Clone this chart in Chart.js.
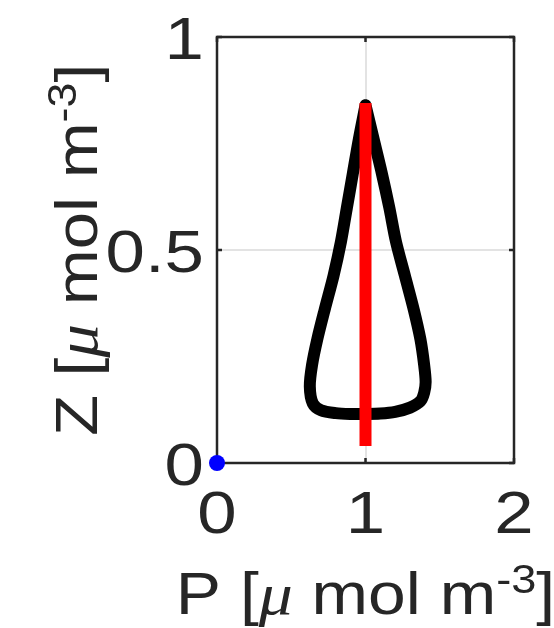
<!DOCTYPE html>
<html>
<head>
<meta charset="utf-8">
<script src="https://cdn.jsdelivr.net/npm/chart.js@4"></script>
<style>
 body{margin:0;background:#fff;}
 canvas{display:block;}
</style>
</head>
<body>
<canvas id="pz" width="554" height="628"></canvas>
<script>
/* DATA */
// black limit cycle: tip, down the left side, along the bottom, up the right side
const loopP=[1.00,0.955,0.915,0.875,0.835,0.785,0.725,0.675,0.64,0.625,0.645,0.70,0.80,0.90,1.00,1.10,1.20,1.30,1.37,1.395,1.405,1.395,1.37,1.325,1.265,1.205,1.16,1.11,1.055,1.00];
const loopZ=[0.84,0.76,0.68,0.60,0.52,0.44,0.36,0.29,0.23,0.18,0.14,0.124,0.117,0.115,0.115,0.116,0.12,0.13,0.145,0.165,0.19,0.23,0.29,0.36,0.44,0.52,0.60,0.68,0.76,0.84];
// red line at P=1
const redP=[1,1];
const redZ=[0.04,0.845];
// blue start point
const dotP=[0];
const dotZ=[0];
const xTicks=[0,1,2];
const yTicks=[0,0.5,1];
const xLabel="P";
const yLabel="Z";

const ink="#262626";
const sans='"Liberation Sans", Arial, sans-serif';
const pts=(xs,ys)=>xs.map((x,i)=>({x:x,y:ys[i]}));

/* TEXT HELPERS (glyphs in the reference are a little wider than Arial) */
function stretchText(ctx,txt,x,y,sx,align){
 ctx.save();
 ctx.translate(x,y);
 ctx.scale(sx,1);
 ctx.textAlign=align;
 ctx.fillText(txt,0,0);
 ctx.restore();
}
function drawTitle(ctx,v,x,y,rot,sx){
 const big='60px '+sans;
 const it='italic 60px "Liberation Serif", serif';
 const sm='40px '+sans;
 const parts=[[v+' [',big,0],['\u03bc',it,0],[' mol m',big,0],['-3',sm,-21],[']',big,0]];
 let w=0;
 parts.forEach(p=>{ctx.font=p[1];w+=ctx.measureText(p[0]).width;});
 ctx.save();
 ctx.translate(x,y);
 ctx.rotate(rot);
 ctx.scale(sx,1);
 ctx.fillStyle=ink;
 ctx.textBaseline="alphabetic";
 ctx.textAlign="left";
 let cx=-w/2;
 parts.forEach(p=>{
  ctx.font=p[1];
  ctx.fillText(p[0],cx,p[2]);
  cx+=ctx.measureText(p[0]).width;
 });
 ctx.restore();
}

const boxPlugin={
 id:"box",
 beforeDatasetsDraw(chart){
  const {ctx,chartArea:a,scales}=chart;
  ctx.save();
  ctx.strokeStyle=ink;
  ctx.lineWidth=2.5;
  xTicks.forEach(t=>{
   const px=scales.x.getPixelForValue(t);
   ctx.beginPath();
   ctx.moveTo(px,a.bottom);ctx.lineTo(px,a.bottom-5);
   ctx.moveTo(px,a.top);ctx.lineTo(px,a.top+5);
   ctx.stroke();
  });
  yTicks.forEach(t=>{
   const py=scales.y.getPixelForValue(t);
   ctx.beginPath();
   ctx.moveTo(a.left,py);ctx.lineTo(a.left+5,py);
   ctx.moveTo(a.right,py);ctx.lineTo(a.right-5,py);
   ctx.stroke();
  });
  ctx.strokeRect(a.left,a.top,a.right-a.left,a.bottom-a.top);
  ctx.restore();
 },
 afterDraw(chart){
  const {ctx,chartArea:a,scales}=chart;
  ctx.save();
  ctx.fillStyle=ink;
  ctx.font='60px '+sans;
  ctx.textBaseline="alphabetic";
  xTicks.forEach(t=>stretchText(ctx,String(t),scales.x.getPixelForValue(t),533,1.18,"center"));
  yTicks.forEach(t=>stretchText(ctx,String(t),204,scales.y.getPixelForValue(t)+22,1.18,"right"));
  ctx.restore();
  drawTitle(ctx,xLabel,(a.left+a.right)/2,614,0,1.13);
  drawTitle(ctx,yLabel,97,(a.top+a.bottom)/2,-Math.PI/2,1.12);
 }
};

/* CHART */
const gridColor=mid=>c=>(c.tick&&c.tick.value===mid)?"#e3e3e3":"rgba(0,0,0,0)";

new Chart(document.getElementById("pz"),{
 type:"scatter",
 data:{
  datasets:[
   {data:pts(dotP,dotZ),pointRadius:8,pointBackgroundColor:"#0000ff",pointBorderWidth:0,showLine:false,clip:false,order:0},
   {data:pts(redP,redZ),showLine:true,borderColor:"#ff0000",borderWidth:12,borderCapStyle:"butt",pointRadius:0,order:1},
   {data:pts(loopP,loopZ),showLine:true,borderColor:"#000000",borderWidth:12,tension:0.3,borderCapStyle:"round",borderJoinStyle:"round",pointRadius:0,order:2}
  ]
 },
 options:{
  responsive:false,
  animation:false,
  devicePixelRatio:1,
  layout:{padding:{top:37,right:40,left:0,bottom:0}},
  plugins:{legend:{display:false},tooltip:{enabled:false}},
  scales:{
   x:{
    type:"linear",min:0,max:2,
    afterBuildTicks:s=>{s.ticks=xTicks.map(v=>({value:v}));},
    afterFit:s=>{s.height=165;s.paddingLeft=0;s.paddingRight=0;},
    border:{display:false},
    grid:{color:gridColor(1),lineWidth:2,drawTicks:false},
    ticks:{display:false}
   },
   y:{
    type:"linear",min:0,max:1,
    afterBuildTicks:s=>{s.ticks=yTicks.map(v=>({value:v}));},
    afterFit:s=>{s.width=217;s.paddingTop=0;s.paddingBottom=0;},
    border:{display:false},
    grid:{color:gridColor(0.5),lineWidth:2,drawTicks:false},
    ticks:{display:false}
   }
  }
 },
 plugins:[boxPlugin]
});
</script>
</body>
</html>
